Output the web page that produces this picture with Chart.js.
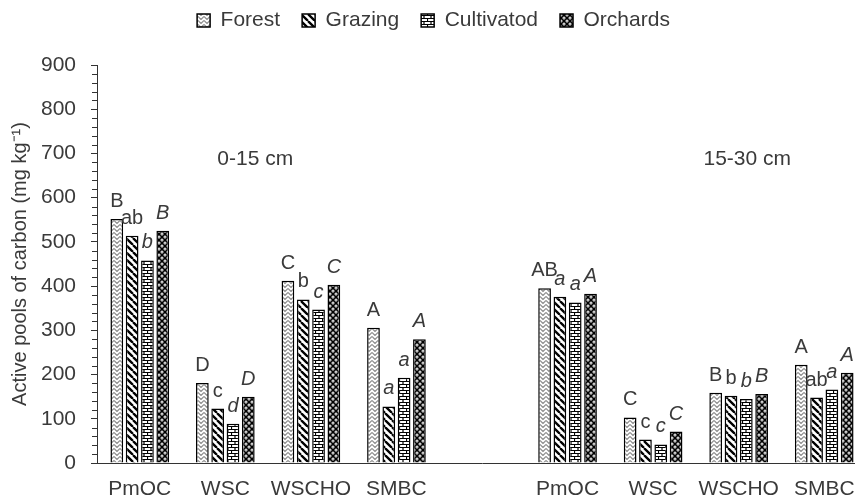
<!DOCTYPE html>
<html>
<head>
<meta charset="utf-8">
<script src="https://cdn.jsdelivr.net/npm/chart.js@4.4.1/dist/chart.umd.min.js"></script>
<style>
  html, body { margin: 0; padding: 0; overflow: hidden; background: #fff; }
  #wrap { width: 880px; height: 500px; position: relative; }
</style>
</head>
<body>
<div id="wrap"><canvas id="chart"></canvas></div>
<script>
// index 4 is the empty slot between the two depths
const categories = ['PmOC', 'WSC', 'WSCHO', 'SMBC', '', 'PmOC', 'WSC', 'WSCHO', 'SMBC'];
const seriesNames = ['Forest', 'Grazing', 'Cultivatod', 'Orchards'];

const forest     = [552, 181, 412, 306, null, 395, 103, 159, 222];
const grazing    = [514, 123, 370, 128, null, 376,  53, 152, 148];
const cultivated = [458,  89, 347, 193, null, 363,  42, 145, 166];
const orchards   = [525, 150, 403, 280, null, 383,  71, 156, 204];

// letters above bars
const forestLetters     = ['B', 'D', 'C', 'A', '', 'AB', 'C', 'B', 'A'];
const grazingLetters    = ['ab', 'c', 'b', 'a', '', 'a', 'c', 'b', 'ab'];
const cultivatedLetters = ['b', 'd', 'c', 'a', '', 'a', 'c', 'b', 'a'];
const orchardsLetters   = ['B', 'D', 'C', 'A', '', 'A', 'C', 'B', 'A'];

const depthLabels = ['0-15 cm', '15-30 cm'];

const FONT = '"Liberation Sans", Arial, sans-serif';
const TEXT = '#3a3a3a';
const AXIS = '#333';

// fill patterns
function makePattern(w, h, draw) {
    let c = document.createElement('canvas');
    c.width = w;
    c.height = h;
    let g = c.getContext('2d');
    draw(g, w, h);
    return g.createPattern(c, 'repeat');
}

const zigzag = makePattern(6, 4, (g, w, h) => {
    g.fillStyle = '#fff';
    g.fillRect(0, 0, w, h);
    g.strokeStyle = '#8f8f8f';
    g.lineWidth = 1.2;
    g.beginPath();
    g.moveTo(0, 0.5);
    g.lineTo(3, 3.5);
    g.lineTo(6, 0.5);
    g.stroke();
});

const diagonal = makePattern(7, 7, (g, w, h) => {
    g.fillStyle = '#fff';
    g.fillRect(0, 0, w, h);
    g.strokeStyle = '#000';
    g.lineWidth = 2.3;
    g.beginPath();
    for (let k of [-7, 0, 7]) {
        g.moveTo(k, 0);
        g.lineTo(k + 7, 7);
    }
    g.stroke();
});

const brick = makePattern(7, 6, (g, w, h) => {
    g.fillStyle = '#fff';
    g.fillRect(0, 0, w, h);
    g.strokeStyle = '#000';
    g.lineWidth = 1.2;
    g.beginPath();
    g.moveTo(0, 0.5); g.lineTo(7, 0.5);
    g.moveTo(0, 3.5); g.lineTo(7, 3.5);
    g.moveTo(0.5, 0); g.lineTo(0.5, 3.5);
    g.moveTo(4, 3.5); g.lineTo(4, 6);
    g.stroke();
});

const spheres = makePattern(6, 6, (g, w, h) => {
    g.fillStyle = '#000';
    g.fillRect(0, 0, w, h);
    g.fillStyle = '#fff';
    for (let [x, y] of [[3, 3], [0, 0], [6, 0], [0, 6], [6, 6]]) {
        g.beginPath();
        g.arc(x, y, 1.5, 0, Math.PI * 2);
        g.fill();
    }
    g.fillStyle = '#000';
    for (let [x, y] of [[3, 3], [0, 0], [6, 0], [0, 6], [6, 6]]) {
        g.beginPath();
        g.arc(x, y, 0.6, 0, Math.PI * 2);
        g.fill();
    }
});

// letters, depth labels and the minor y ticks
const extras = {
    id: 'extras',
    afterLayout(chart) {
        // pull the legend up to the top edge
        let lg = chart.legend;
        let h = lg.bottom - lg.top;
        lg.top = -12;
        lg.bottom = lg.top + h;
    },
    afterDatasetsDraw(chart) {
        const ctx = chart.ctx;
        ctx.save();
        ctx.fillStyle = TEXT;
        ctx.textAlign = 'center';
        ctx.textBaseline = 'alphabetic';
        chart.data.datasets.forEach((ds, di) => {
            let meta = chart.getDatasetMeta(di);
            meta.data.forEach((bar, i) => {
                if (ds.data[i] == null || !ds.letters[i]) return;
                ctx.font = (ds.italic[i] ? 'italic ' : '') + '20px ' + FONT;
                ctx.fillText(ds.letters[i], bar.x, bar.y - 12);
            });
        });

        // depth labels
        const x = chart.scales.x, y = chart.scales.y;
        ctx.font = '21px ' + FONT;
        ctx.textBaseline = 'middle';
        ctx.fillText(depthLabels[0], x.getPixelForValue(1.35), y.getPixelForValue(688));
        ctx.fillText(depthLabels[1], x.getPixelForValue(7.1), y.getPixelForValue(688));

        // minor ticks
        ctx.strokeStyle = AXIS;
        ctx.lineWidth = 1;
        ctx.beginPath();
        for (let v = 20; v < 900; v += 20) {
            if (v % 100 === 0) continue;
            let py = Math.round(y.getPixelForValue(v)) + 0.5;
            ctx.moveTo(y.right - 5, py);
            ctx.lineTo(y.right, py);
        }
        ctx.stroke();
        ctx.restore();
    }
};

const ctx = document.getElementById('chart');

new Chart(ctx, {
    type: 'bar',
    data: {
        labels: categories,
        datasets: [
            { label: seriesNames[0], data: forest, backgroundColor: zigzag, letters: forestLetters,
              italic: [0, 0, 0, 0, 0, 0, 0, 0, 0] },
            { label: seriesNames[1], data: grazing, backgroundColor: diagonal, letters: grazingLetters,
              italic: [0, 0, 0, 1, 0, 1, 0, 0, 0] },
            { label: seriesNames[2], data: cultivated, backgroundColor: brick, letters: cultivatedLetters,
              italic: [1, 1, 1, 1, 1, 1, 1, 1, 1] },
            { label: seriesNames[3], data: orchards, backgroundColor: spheres, letters: orchardsLetters,
              italic: [1, 1, 1, 1, 1, 1, 1, 1, 1] }
        ]
    },
    options: {
        responsive: true,
        maintainAspectRatio: false,
        animation: false,
        layout: {
            padding: { top: 0, right: 13, bottom: 0, left: 0 }
        },
        datasets: {
            bar: {
                borderColor: '#000',
                borderWidth: 1.5,
                categoryPercentage: 0.716,
                barPercentage: 0.83
            }
        },
        plugins: {
            legend: {
                position: 'top',
                labels: {
                    boxWidth: 13,
                    boxHeight: 13,
                    padding: 22,
                    color: TEXT,
                    font: { size: 21, family: FONT }
                }
            },
            tooltip: { enabled: false }
        },
        scales: {
            x: {
                grid: { display: false, drawTicks: false },
                border: { display: true, color: AXIS, width: 1 },
                ticks: {
                    color: TEXT,
                    padding: 14,
                    autoSkip: false,
                    maxRotation: 0,
                    font: { size: 21, family: FONT }
                },
                afterFit(s) { s.height = 37; }
            },
            y: {
                min: 0,
                max: 900,
                ticks: {
                    stepSize: 100,
                    color: TEXT,
                    padding: 15,
                    font: { size: 21, family: FONT }
                },
                grid: { drawOnChartArea: false, drawTicks: true, tickLength: 6, tickColor: AXIS },
                border: { display: true, color: AXIS, width: 1 },
                title: {
                    display: true,
                    text: 'Active pools of carbon (mg kg\u207B\u00B9)',
                    color: TEXT,
                    font: { size: 20, family: FONT },
                    padding: { top: 8, bottom: 0 }
                },
                afterFit(s) { s.width = 97; s.paddingTop = 65; }
            }
        }
    },
    plugins: [extras]
});
</script>
</body>
</html>
